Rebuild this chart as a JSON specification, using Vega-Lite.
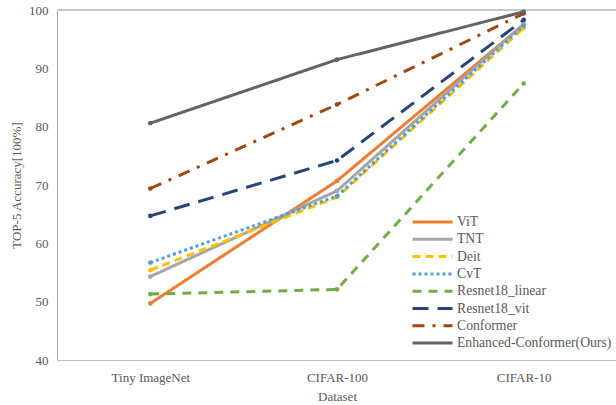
{
  "$schema": "https://vega.github.io/schema/vega-lite/v6.json",
  "width": 560,
  "height": 350,
  "autosize": {"type": "none"},
  "padding": {"left": 57, "top": 10, "right": 0, "bottom": 45},
  "background": "white",
  "config": {
    "view": {"stroke": null},
    "font": "Liberation Serif",
    "axis": {"labelFont": "Liberation Serif", "titleFont": "Liberation Serif", "labelColor": "#595959", "titleColor": "#595959", "labelFontSize": 13, "titleFontSize": 13, "titleFontWeight": "normal", "domainColor": "#a6a6a6", "ticks": false, "grid": false},
    "legend": {"labelFont": "Liberation Serif", "labelFontSize": 13.7, "labelColor": "#595959"}
  },
  "data": {"values": [
    {"model": "ViT", "dataset": "Tiny ImageNet", "acc": 49.7},
    {"model": "ViT", "dataset": "CIFAR-100", "acc": 70.7},
    {"model": "ViT", "dataset": "CIFAR-10", "acc": 97.5},
    {"model": "TNT", "dataset": "Tiny ImageNet", "acc": 54.3},
    {"model": "TNT", "dataset": "CIFAR-100", "acc": 69.0},
    {"model": "TNT", "dataset": "CIFAR-10", "acc": 97.6},
    {"model": "Deit", "dataset": "Tiny ImageNet", "acc": 55.4},
    {"model": "Deit", "dataset": "CIFAR-100", "acc": 67.9},
    {"model": "Deit", "dataset": "CIFAR-10", "acc": 96.9},
    {"model": "CvT", "dataset": "Tiny ImageNet", "acc": 56.7},
    {"model": "CvT", "dataset": "CIFAR-100", "acc": 68.1},
    {"model": "CvT", "dataset": "CIFAR-10", "acc": 97.3},
    {"model": "Resnet18_linear", "dataset": "Tiny ImageNet", "acc": 51.3},
    {"model": "Resnet18_linear", "dataset": "CIFAR-100", "acc": 52.1},
    {"model": "Resnet18_linear", "dataset": "CIFAR-10", "acc": 87.4},
    {"model": "Resnet18_vit", "dataset": "Tiny ImageNet", "acc": 64.7},
    {"model": "Resnet18_vit", "dataset": "CIFAR-100", "acc": 74.2},
    {"model": "Resnet18_vit", "dataset": "CIFAR-10", "acc": 98.3},
    {"model": "Conformer", "dataset": "Tiny ImageNet", "acc": 69.4},
    {"model": "Conformer", "dataset": "CIFAR-100", "acc": 83.8},
    {"model": "Conformer", "dataset": "CIFAR-10", "acc": 99.4},
    {"model": "Enhanced-Conformer(Ours)", "dataset": "Tiny ImageNet", "acc": 80.6},
    {"model": "Enhanced-Conformer(Ours)", "dataset": "CIFAR-100", "acc": 91.5},
    {"model": "Enhanced-Conformer(Ours)", "dataset": "CIFAR-10", "acc": 99.7}
  ]},
  "layer": [
    {
      "mark": {"type": "rule", "color": "#c8c8c8", "strokeWidth": 1},
      "encoding": {"y": {"datum": 100}}
    },
    {
      "mark": {"type": "line", "strokeWidth": 3, "point": {"filled": true, "size": 22}},
      "encoding": {
        "x": {"field": "dataset", "type": "nominal", "sort": ["Tiny ImageNet", "CIFAR-100", "CIFAR-10"], "scale": {"padding": 0.5}, "title": "Dataset", "axis": {"labelAngle": 0, "labelPadding": 11, "titlePadding": 6, "domainColor": "#bfbfbf", "labelFont": "Liberation Serif", "titleFont": "Liberation Serif"}},
        "y": {"field": "acc", "type": "quantitative", "scale": {"domain": [40, 100], "nice": false, "zero": false}, "title": "TOP-5 Accuracy[100%]", "axis": {"values": [40, 50, 60, 70, 80, 90, 100], "labelPadding": 9, "titlePadding": 5, "domainColor": "#a6a6a6", "labelFont": "Liberation Serif", "titleFont": "Liberation Serif"}},
        "color": {"field": "model", "type": "nominal", "title": null,
          "scale": {"domain": ["ViT", "TNT", "Deit", "CvT", "Resnet18_linear", "Resnet18_vit", "Conformer", "Enhanced-Conformer(Ours)"],
                    "range": ["#ED7D31", "#A5A5A5", "#FFC000", "#5B9BD5", "#70AD47", "#264478", "#9E480E", "#636363"]},
          "legend": {"orient": "none", "legendX": 354, "legendY": 205, "symbolType": "stroke", "symbolSize": 1600, "symbolStrokeWidth": 3, "clipHeight": 14, "rowPadding": 3.3, "labelOffset": 3, "fillColor": "white", "labelFont": "Liberation Serif"}},
        "strokeDash": {"field": "model", "type": "nominal", "title": null,
          "scale": {"domain": ["ViT", "TNT", "Deit", "CvT", "Resnet18_linear", "Resnet18_vit", "Conformer", "Enhanced-Conformer(Ours)"],
                    "range": [[1, 0], [1, 0], [8, 5], [3, 3], [9, 7], [16, 9], [12, 8, 3, 8], [1, 0]]},
          "legend": {"orient": "none", "legendX": 354, "legendY": 205, "symbolType": "stroke", "symbolSize": 1600, "symbolStrokeWidth": 3, "clipHeight": 14, "rowPadding": 3.3, "labelOffset": 3, "fillColor": "white", "labelFont": "Liberation Serif"}}
      }
    }
  ]
}
